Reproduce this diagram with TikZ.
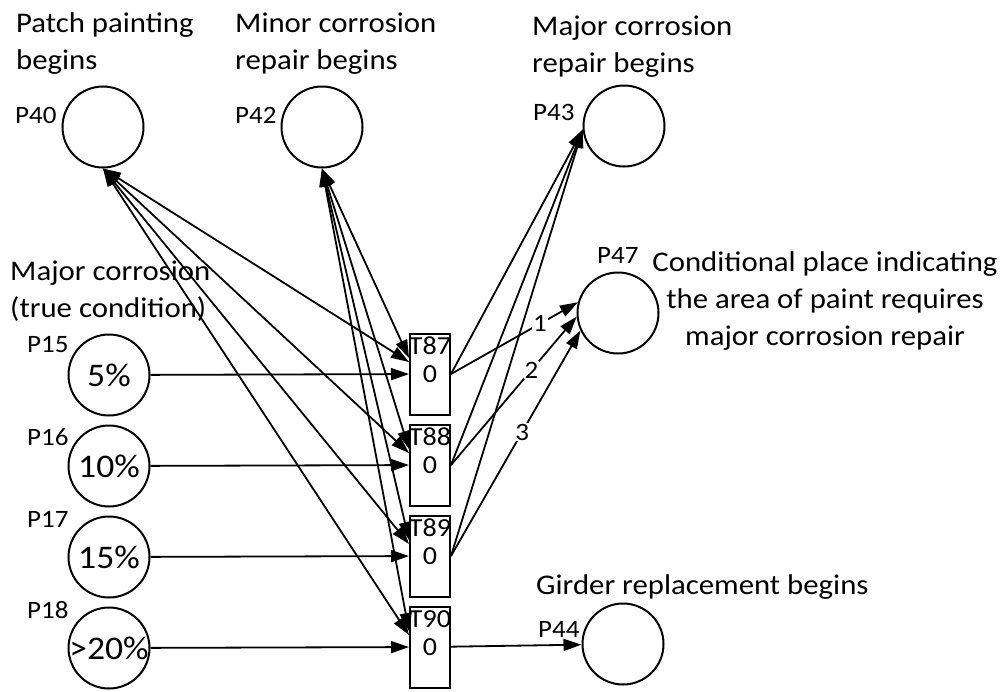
\documentclass[tikz,border=0pt]{standalone}
\usepackage{fontspec}
\setmainfont{Carlito}[FakeStretch=1.08]
\usetikzlibrary{arrows.meta}

\tikzset{
	place/.style={circle, draw, line width=2pt, minimum size=81pt, inner sep=0pt},
	trans/.style={rectangle, draw, line width=2pt, minimum width=40pt, minimum height=81pt, inner sep=0pt, font=\fontsize{26}{30}\selectfont},
	tname/.style={font=\fontsize{26}{30}\selectfont, label distance=-22pt, inner sep=0pt},
	pct/.style={font=\fontsize{33}{40}\selectfont, inner sep=0pt},
	pname/.style={font=\fontsize{25}{28}\selectfont, inner sep=0pt, anchor=base west},
	head/.style={font=\fontsize{28.5}{37}\selectfont, inner sep=0pt},
	flow/.style={line width=1.8pt, -{Triangle[length=18pt,width=12pt]}},
	biflow/.style={line width=1.8pt, {Triangle[length=18pt,width=12pt]}-{Triangle[length=18pt,width=12pt]}},
	weight/.style={font=\fontsize{25}{28}\selectfont, fill=white, inner sep=1pt}
}

\begin{document}
\begin{tikzpicture}[x=1pt, y=-1pt]
		%%%%% START %%%%%
		\useasboundingbox (0, 0) rectangle (1006, 691);
		
		% headings (base = last line)
		\node[head, align=left, anchor=base west] (hPatch) at (16, 69) {Patch painting\\begins};
		\node[head, align=left, anchor=base west] (hMinor) at (235, 69) {Minor corrosion\\repair begins};
		\node[head, align=left, anchor=base west] (hMajor) at (532, 72) {Major corrosion\\repair begins};
		\node[head, align=left, anchor=base west] (hTrue) at (10, 317) {Major corrosion\\(true condition)};
		\node[head, align=center, anchor=base] (hCond) at (825, 345) {Conditional place indicating\\the area of paint requires\\major corrosion repair};
		\node[head, align=left, anchor=base west] (hGirder) at (536, 594) {Girder replacement begins};
		
		% places
		\node[place] (P40) at (103, 127) {};
		\node[place] (P42) at (322, 127) {};
		\node[place] (P43) at (624, 126) {};
		\node[place] (P47) at (618, 313) {};
		\node[place, label={[pct]center:5\%}] (P15) at (109, 375) {};
		\node[place, label={[pct]center:10\%}] (P16) at (109, 466) {};
		\node[place, label={[pct]center:15\%}] (P17) at (109, 557) {};
		\node[place, label={[pct]center:>20\%}] (P18) at (109, 648) {};
		\node[place] (P44) at (623, 644) {};
		
		\node[pname] (nP40) at (15, 123) {P40};
		\node[pname] (nP42) at (235, 123) {P42};
		\node[pname] (nP43) at (533, 120) {P43};
		\node[pname] (nP47) at (597, 263) {P47};
		\node[pname] (nP15) at (27, 352) {P15};
		\node[pname] (nP16) at (27, 445) {P16};
		\node[pname] (nP17) at (27, 527) {P17};
		\node[pname] (nP18) at (27, 618) {P18};
		\node[pname] (nP44) at (538, 637) {P44};
		
		% transitions
		\node[trans, label={[tname]north:T87}] (T87) at (430, 374) {0};
		\node[trans, label={[tname]north:T88}] (T88) at (430, 465) {0};
		\node[trans, label={[tname]north:T89}] (T89) at (430, 556) {0};
		\node[trans, label={[tname]north:T90}] (T90) at (430, 647) {0};
		
		% inputs
		\draw[flow] (P15) -- (T87);
		\draw[flow] (P16) -- (T88);
		\draw[flow] (P17) -- (T89);
		\draw[flow] (P18) -- (T90);
		
		\draw[biflow] (P40.south) -- ([yshift=12pt]T87.west);
		\draw[biflow] (P40.south) -- ([yshift=12pt]T88.west);
		\draw[biflow] (P40.south) -- ([yshift=12pt]T89.west);
		\draw[biflow] (P40.south) -- ([yshift=12pt]T90.west);
		
		\draw[biflow] (P42.south) -- ([yshift=16pt]T87.west);
		\draw[biflow] (P42.south) -- ([yshift=16pt]T88.west);
		\draw[biflow] (P42.south) -- ([yshift=16pt]T89.west);
		\draw[biflow] (P42.south) -- ([yshift=16pt]T90.west);
		
		% outputs
		\draw[flow] (T87.east) -- (P43.185);
		\draw[flow] (T88.east) -- (P43.185);
		\draw[flow] (T89.east) -- (P43.185);
		
		\draw[flow] (T87.east) -- node[weight, pos=0.7] (w1) {1} (P47.165);
		\draw[flow] (T88.east) -- node[weight, pos=0.64] (w2) {2} (P47.185);
		\draw[flow] (T89.east) -- node[weight, pos=0.55] (w3) {3} (P47.205);
		
		\draw[flow] (T90) -- (P44);
		
		%%%%% END %%%%%
\end{tikzpicture}
\end{document}
